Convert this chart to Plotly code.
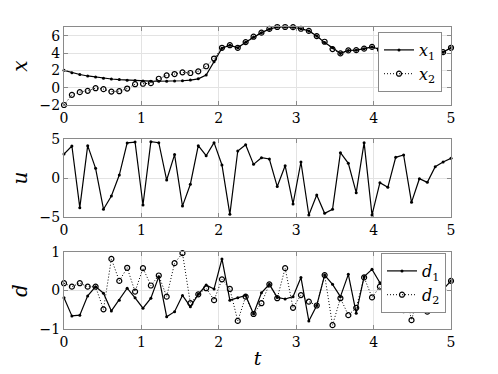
import numpy as np
import plotly.graph_objects as go
from plotly.subplots import make_subplots

# time samples (50 points between 0 and 5)
t = np.linspace(0, 5, 50)

x1 = [2.0, 1.72, 1.52, 1.35, 1.22, 1.1, 1.0, 0.93, 0.87, 0.82,
      0.78, 0.75, 0.74, 0.74, 0.76, 0.8, 0.88, 1.02, 1.45, 3.0,
      4.55, 4.9, 4.6, 5.25, 5.85, 6.35, 6.75, 7.0, 7.0, 6.98,
      6.8, 6.55, 5.95, 5.2, 4.6, 3.95, 4.3, 4.33, 4.5, 4.7,
      4.4, 4.3, 4.35, 4.4, 4.45, 4.4, 4.3, 4.2, 4.1, 4.6]
x2 = [-2.0, -0.83, -0.52, -0.37, -0.06, -0.17, -0.45, -0.41, -0.1, 0.4,
      0.45, 0.52, 1.03, 1.42, 1.57, 1.77, 1.69, 1.88, 2.47, 3.36,
      4.6, 4.9, 4.6, 5.26, 5.88, 6.35, 6.78, 7.0, 7.0, 6.98,
      6.8, 6.55, 5.95, 5.3, 4.45, 3.95, 4.3, 4.33, 4.5, 4.7,
      4.4, 4.3, 4.35, 4.4, 4.45, 4.4, 4.3, 4.2, 4.1, 4.6]

u = [3.08, 4.1, -3.8, 4.15, 1.24, -4.0, -2.3, 0.38, 4.5, 4.6,
     -3.46, 4.66, 4.53, -0.26, 3.0, -3.6, -0.8, 4.15, 2.86, 4.53,
     1.67, -4.66, 3.46, 4.27, 1.75, 2.6, 2.44, -1.1, 1.58, -3.33,
     2.05, -4.74, -2.18, -4.53, -4.02, 3.25, 1.88, -1.88, 4.53, -4.74,
     -0.6, -1.2, 2.65, 2.95, -3.12, -0.09, -0.56, 1.45, 2.05, 2.52]

d1 = [-0.19, -0.66, -0.64, -0.14, 0.1, -0.07, -0.53, -0.25, 0.06, -0.19,
      -0.46, -0.2, 0.36, -0.68, -0.55, -0.13, -0.42, -0.1, 0.14, 0.04,
      0.82, -0.25, -0.19, -0.13, -0.61, -0.06, 0.16, -0.18, -0.22, -0.16,
      0.34, -0.79, -0.39, 0.4, 0.16, -0.16, 0.42, -0.59, 0.36, 0.55,
      0.2, -0.1, 0.0, -0.55, -0.2, 0.1, -0.1, 0.3, 0.03, 0.25]
d2 = [0.19, 0.1, 0.19, 0.1, 0.1, -0.49, 0.82, 0.25, 0.59, -0.03,
      0.58, 0.13, 0.39, -0.16, 0.71, 0.97, -0.33, -0.1, 0.06, -0.25,
      0.29, 0.04, -0.79, -0.16, -0.61, -0.33, 0.16, -0.2, 0.58, -0.45,
      -0.12, -0.29, -0.39, 0.4, -0.9, -0.2, -0.64, -0.45, 0.34, -0.18,
      0.1, -0.2, -0.45, 0.2, -0.77, 0.0, -0.55, -0.44, 0.03, 0.25]

FONT = "DejaVu Serif"
GRID = "#e3e3e3"
AXIS = "#8a8a8a"

fig = make_subplots(rows=3, cols=1)

solid = dict(color="black", width=1.2)
dotted = dict(color="black", width=1, dash="1px,2px")
dots = dict(size=3, color="black")
rings = dict(size=5, color="black", symbol="circle-open", line=dict(color="black", width=1.2))

fig.add_trace(go.Scatter(x=t, y=x1, mode="lines+markers", name="<i>x</i><sub>1</sub>",
                         line=solid, marker=dots, cliponaxis=False, legend="legend"),
              row=1, col=1)
fig.add_trace(go.Scatter(x=t, y=x2, mode="lines+markers", name="<i>x</i><sub>2</sub>",
                         line=dotted, marker=rings, cliponaxis=False, legend="legend"),
              row=1, col=1)

fig.add_trace(go.Scatter(x=t, y=u, mode="lines+markers", showlegend=False,
                         line=solid, marker=dots, cliponaxis=False), row=2, col=1)

fig.add_trace(go.Scatter(x=t, y=d1, mode="lines+markers", name="<i>d</i><sub>1</sub>",
                         line=solid, marker=dots, cliponaxis=False, legend="legend2"),
              row=3, col=1)
fig.add_trace(go.Scatter(x=t, y=d2, mode="lines+markers", name="<i>d</i><sub>2</sub>",
                         line=dotted, marker=rings, cliponaxis=False, legend="legend2"),
              row=3, col=1)

# page has an 8px body margin, so figure pixels = screenshot pixels - 8
OFF = 8
W, H = 498, 374
L, R, T, B = 64 - OFF, 451 - OFF, 27 - OFF, 329 - OFF
PH = B - T


def ydom(top, bottom):
    return [(B - (bottom - OFF)) / PH, (B - (top - OFF)) / PH]


ydoms = [ydom(27, 105), ydom(139, 217), ydom(252, 329)]
yranges = [[-2, 7], [-5, 5], [-1, 1]]
yticks = [[-2, 0, 2, 4, 6], [-5, 0, 5], [-1, 0, 1]]
ylabels = ["<i>x</i>", "<i>u</i>", "<i>d</i>"]

axis_common = dict(showline=True, linecolor=AXIS, linewidth=1, mirror="ticks",
                   ticks="inside", ticklen=4, tickcolor=AXIS, automargin=False,
                   showgrid=True, gridcolor=GRID, gridwidth=1, zeroline=False,
                   tickfont=dict(family=FONT, size=14, color="black"))

for i in range(3):
    n = "" if i == 0 else str(i + 1)
    fig.layout["xaxis" + n].update(domain=[0, 1], range=[0, 5], tickvals=[0, 1, 2, 3, 4, 5],
                                   **axis_common)
    fig.layout["yaxis" + n].update(domain=ydoms[i], range=yranges[i], tickvals=yticks[i],
                                   title=dict(text=ylabels[i], standoff=16,
                                              font=dict(family=FONT, size=20, color="black")),
                                   **axis_common)

fig.layout.xaxis3.title = dict(text="<i>t</i>", standoff=2,
                               font=dict(family=FONT, size=19, color="black"))

legend_style = dict(bgcolor="white", bordercolor=AXIS, borderwidth=1,
                    font=dict(family=FONT, size=16, color="black"),
                    xanchor="left", yanchor="top", itemwidth=30, tracegroupgap=0)

fig.update_layout(
    width=W, height=H,
    margin=dict(l=L, r=W - R, t=T, b=H - B, autoexpand=False),
    font=dict(family=FONT, color="black"),
    plot_bgcolor="white", paper_bgcolor="white",
    legend=dict(x=(378 - 64) / (R - L), y=(B - (32 - OFF)) / PH, **legend_style),
    legend2=dict(x=(381 - 64) / (R - L), y=(B - (253 - OFF)) / PH, **legend_style),
)

fig.write_html("out.html")
